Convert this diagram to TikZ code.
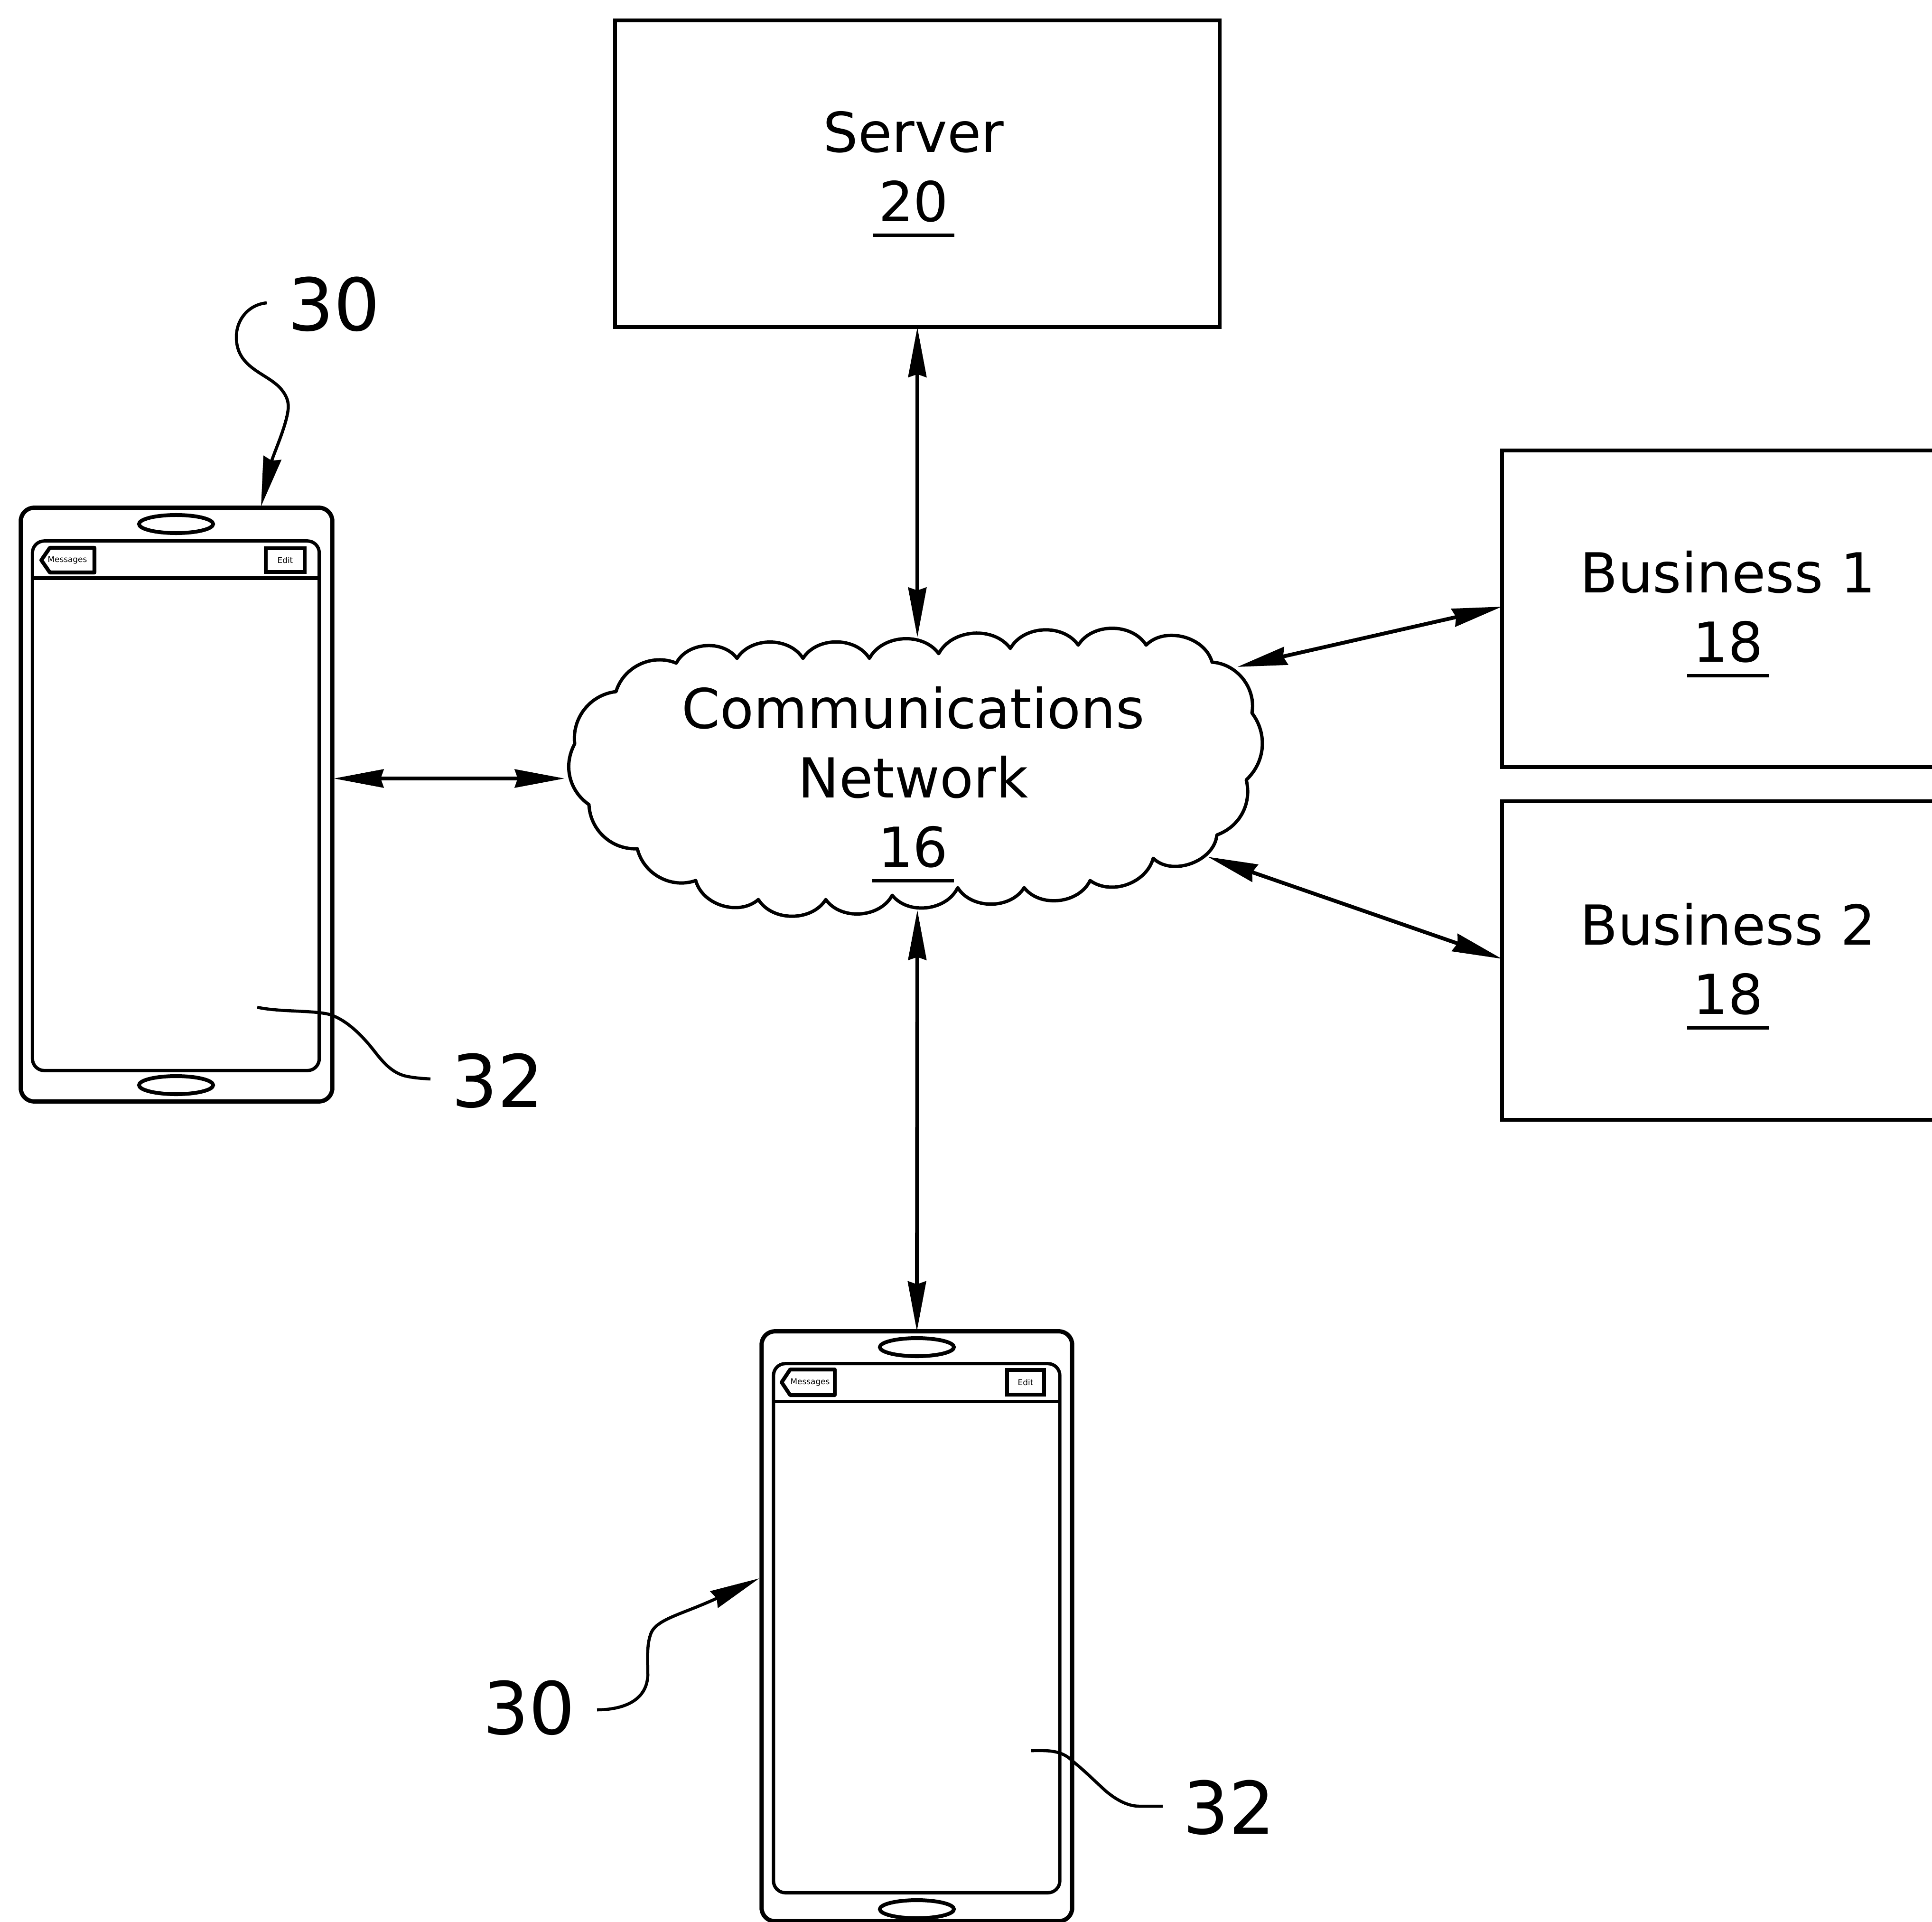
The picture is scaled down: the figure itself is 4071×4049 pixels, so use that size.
\documentclass[tikz,border=0pt]{standalone}
\usepackage{fontspec}
\setmainfont{DejaVu Sans}
\usetikzlibrary{arrows.meta,shapes.geometric}
\newcommand\ulnum[1]{\setbox0=\hbox{\kern3.5pt #1\kern3.5pt}\hbox{\copy0\kern-\wd0\raisebox{-9.3pt}{\rule{\wd0}{2.2pt}}}}
\tikzset{
  >={Stealth[length=1.05cm,width=.38cm,inset=.06cm]},
  boxnode/.style={draw,line width=.08cm,rectangle,inner sep=0pt,outer sep=0pt},
  phoneouter/.style={draw,line width=.09cm,rectangle,rounded corners=.28cm,inner sep=0pt,outer sep=0pt,minimum width=6.56cm},
  phoneinner/.style={draw,line width=.07cm,rectangle,rounded corners=.25cm,inner sep=0pt,outer sep=0pt,minimum width=6.04cm},
  earpiece/.style={draw,line width=.08cm,ellipse,inner sep=0pt,outer sep=0pt,minimum width=1.56cm,minimum height=.38cm},
  editbtn/.style={draw,line width=.08cm,rectangle,inner sep=0pt,outer sep=0pt,minimum height=.54cm,font=\fontsize{4.8}{5}\selectfont},
  lbl/.style={inner sep=0pt,align=center,font=\fontsize{33}{41.5}\selectfont},
  refnum/.style={inner sep=0pt,font=\fontsize{43.5}{50}\selectfont},
  tinytext/.style={inner sep=0pt,font=\fontsize{4.8}{5}\selectfont},
  link/.style={line width=.08cm,<->},
  lead/.style={line width=.065cm},
  leadarrow/.style={line width=.065cm,->},
  cloudline/.style={line width=.07cm,line join=round},
}
\begin{document}
\begin{tikzpicture}[x=0.01cm,y=-0.01cm]
\path[use as bounding box,clip] (0,0) rectangle (4071,4049);
% boxes
\node[boxnode,minimum width=12.74cm,minimum height=6.46cm] (server) at (1933,366) {};
\node[boxnode,minimum width=9.5cm,minimum height=6.67cm] (biz1) at (3640,1282.5) {};
\node[boxnode,minimum width=9.5cm,minimum height=6.71cm] (biz2) at (3640,2023.5) {};
\node[lbl] (serverlabel) at (1925,367) {Server\\\ulnum{20}};
\node[lbl] (biz1label) at (3641,1294) {Business 1\\\ulnum{18}};
\node[lbl] (biz2label) at (3641,2036) {Business 2\\\ulnum{18}};
% cloud
\draw[cloudline]
 (1425,1397) to[bend left=58] (1553,1387) to[bend left=58] (1692,1387) to[bend left=58] (1832,1387)
 to[bend left=58] (1978,1377) to[bend left=58] (2129,1366) to[bend left=58] (2272,1359) to[bend left=58] (2415,1359)
 to[bend left=60] (2554,1395) to[bend left=48] (2638,1502) to[bend left=42] (2626,1643) to[bend left=42] (2564,1759)
 to[bend left=65] (2430,1808) to[bend left=55] (2297,1855) to[bend left=58] (2158,1870) to[bend left=58] (2018,1870)
 to[bend left=58] (1880,1886) to[bend left=58] (1740,1895) to[bend left=58] (1598,1895) to[bend left=58] (1466,1855)
 to[bend left=48] (1343,1788) to[bend left=45] (1241,1695) to[bend left=42] (1211,1567) to[bend left=45] (1298,1457)
 to[bend left=48] cycle;
\node[lbl] (cloudlabel) at (1924,1653) {Communications\\Network\\\ulnum{16}};
% left phone
\node[phoneouter,minimum height=12.5cm] (phoneA) at (372,1695) {};
\node[phoneinner,minimum height=11.15cm] (screenA) at (370.5,1697.5) {};
\node[earpiece] (earA1) at (371,1104) {};
\node[earpiece] (earA2) at (371,2286) {};
\coordinate (hdrAl) at (screenA.west |- 0,1218);
\coordinate (hdrAr) at (screenA.east |- 0,1218);
\draw[line width=.07cm] (hdrAl) -- (hdrAr);
\coordinate (backA1) at (105,1154);\coordinate (backA2) at (199,1154);\coordinate (backA3) at (199,1206);\coordinate (backA4) at (105,1206);\coordinate (backA5) at (87,1180);
\draw[line width=.08cm,line join=round] (backA1) -- (backA2) -- (backA3) -- (backA4) -- (backA5) -- cycle;
\node[tinytext] (msgA) at (142,1180) {Messages};
\node[editbtn,minimum width=.82cm,minimum height=.5cm] (editA) at (601,1180) {Edit};
% bottom phone
\node[phoneouter,minimum width=6.54cm,minimum height=12.42cm] (phoneB) at (1932,3426) {};
\node[phoneinner,minimum width=6.03cm,minimum height=11.14cm] (screenB) at (1931.5,3430) {};
\node[earpiece] (earB1) at (1932,2838) {};
\node[earpiece] (earB2) at (1932,4022) {};
\coordinate (hdrBl) at (screenB.west |- 0,2952);
\coordinate (hdrBr) at (screenB.east |- 0,2952);
\draw[line width=.07cm] (hdrBl) -- (hdrBr);
\coordinate (backB1) at (1665,2885);\coordinate (backB2) at (1759,2885);\coordinate (backB3) at (1759,2939);\coordinate (backB4) at (1665,2939);\coordinate (backB5) at (1647,2912);
\draw[line width=.08cm,line join=round] (backB1) -- (backB2) -- (backB3) -- (backB4) -- (backB5) -- cycle;
\node[tinytext] (msgB) at (1707,2912) {Messages};
\node[editbtn,minimum width=.78cm,minimum height=.52cm] (editB) at (2161,2912) {Edit};
% links
\coordinate (cloudTop) at (1933,1343);
\coordinate (cloudBottom) at (1933,1917);
\coordinate (cloudLeft) at (1190,1640);
\coordinate (phoneAright) at (703,1640);
\coordinate (cloudNE) at (2607,1405);
\coordinate (cloudSE) at (2545,1805);
\coordinate (biz1w) at (3165,1278);
\coordinate (biz2w) at (3165,2020);
\draw[link] (server.south) -- (cloudTop);
\draw[link] (cloudBottom) -- (phoneB.north);
\draw[link] (phoneAright) -- (cloudLeft);
\draw[link] (cloudNE) -- (biz1w);
\draw[link] (cloudSE) -- (biz2w);
% reference numerals
\node[refnum] (n30a) at (704,641) {30};
\node[refnum] (n32a) at (1049,2277) {32};
\node[refnum] (n30b) at (1115,3598) {30};
\node[refnum] (n32b) at (2590,3808) {32};
\coordinate (l30aS) at (562,638);
\coordinate (l30aE) at (550,1067);
\draw[leadarrow] (l30aS) .. controls (522,642) and (498,675) .. (498,710)
  .. controls (498,775) and (560,785) .. (590,817)
  .. controls (606,835) and (610,850) .. (606,870)
  .. controls (600,905) and (575,960) .. (l30aE);
\coordinate (l32aS) at (542,2122);
\coordinate (l32aE) at (907,2273);
\draw[lead] (l32aS) .. controls (590,2132) and (650,2128) .. (690,2136)
  .. controls (730,2146) and (765,2185) .. (783,2207)
  .. controls (805,2235) and (825,2262) .. (860,2268)
  .. controls (875,2271) and (890,2272) .. (l32aE);
\coordinate (l30bS) at (1258,3602);
\coordinate (l30bE) at (1600,3325);
\draw[leadarrow] (l30bS) .. controls (1300,3602) and (1362,3590) .. (1365,3530)
  .. controls (1365,3495) and (1362,3465) .. (1372,3440)
  .. controls (1385,3410) and (1440,3400) .. (l30bE);
\coordinate (l32bS) at (2173,3688);
\coordinate (l32bE) at (2450,3805);
\draw[lead] (l32bS) .. controls (2205,3688) and (2235,3685) .. (2260,3710)
  .. controls (2285,3730) and (2310,3755) .. (2330,3773)
  .. controls (2350,3790) and (2375,3805) .. (2400,3805)
  -- (l32bE);
\end{tikzpicture}
\end{document}
